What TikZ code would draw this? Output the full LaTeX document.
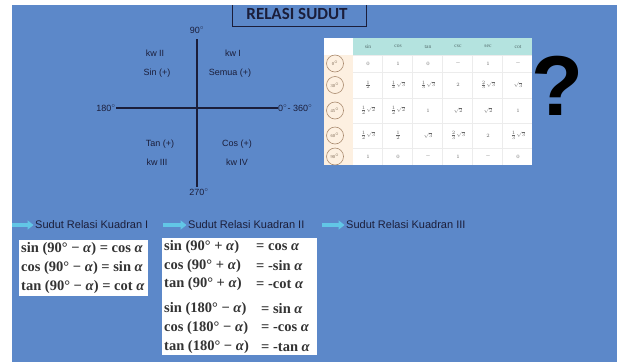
\documentclass[tikz,border=0pt]{standalone}
\usepackage{fontspec}
\setmainfont{Liberation Serif}
\setsansfont{Liberation Sans}
\newfontfamily\titlefont{Carlito}
\usetikzlibrary{arrows.meta}
\definecolor{bg}{HTML}{5C88C9}
\definecolor{ink}{HTML}{1B1E3A}
\definecolor{arr}{HTML}{62C6E6}
\definecolor{hdr}{HTML}{B4E3DF}
\definecolor{peach}{HTML}{FDF0E1}
\definecolor{cellink}{HTML}{666666}
\definecolor{ring}{HTML}{A98A6E}
\definecolor{eqink}{HTML}{333333}
\definecolor{grid}{HTML}{ECECEC}
\begin{document}
\begin{tikzpicture}[x=1pt,y=-1pt,
  lbl/.style={font=\sffamily\fontsize{9}{10}\selectfont, text=ink, inner sep=0},
  axis/.style={draw=ink, line width=1.6pt},
  cell/.style={font=\fontsize{5.5}{6}\selectfont, text=cellink, inner sep=0},
  hcell/.style={font=\fontsize{5.5}{6}\selectfont, text=cellink!80!teal, inner sep=0},
  ang/.style={circle, draw=ring, line width=0.6pt, minimum size=17, inner sep=0, font=\fontsize{4.5}{5}\selectfont, text=ring!70!black},
  head/.style={font=\sffamily\fontsize{11}{12}\selectfont, text=ink, inner sep=0, anchor=west},
  bigarrow/.style={draw=arr, line width=3.5pt, shorten >=1.5pt, -{Triangle[length=6pt,width=9pt]}},
  eq/.style={font=\bfseries\fontsize{14.5}{16}\selectfont, text=eqink, inner sep=0, anchor=west},
  ebox/.style={fill=white, inner sep=0, anchor=north west}]
\useasboundingbox (0,0) rectangle (617,362);
\fill[bg] (12,5) rectangle (617,362);

% title
\draw[ink, line width=1pt] (232,5) -- (232,26) -- (366,26) -- (366,5);
\node[font=\titlefont\bfseries\fontsize{17}{18}\selectfont, text=ink, inner sep=0] (title) at (297,14) {RELASI SUDUT};

% axes
\node[lbl] (n90) at (197,30) {90$^{\circ}$};
\node[lbl] (n270) at (199,192) {270$^{\circ}$};
\node[lbl, anchor=east] (n180) at (116,108) {180$^{\circ}$};
\node[lbl, anchor=west] (n0) at (278,108) {0$^{\circ}$- 360$^{\circ}$};
\coordinate (vtop) at (197,39);
\coordinate (vbot) at (197,187);
\draw[axis] (vtop) -- (vbot);
\draw[axis] (n180.east) -- (n0.west);

\node[lbl] (q2a) at (155,53) {kw II};
\node[lbl] (q2b) at (157,73) {Sin (+)};
\node[lbl] (q1a) at (233,53) {kw I};
\node[lbl] (q1b) at (230,73) {Semua (+)};
\node[lbl] (q3a) at (160,144) {Tan (+)};
\node[lbl] (q3b) at (157,162) {kw III};
\node[lbl] (q4a) at (237,144) {Cos (+)};
\node[lbl] (q4b) at (237,162) {kw IV};

% table
\fill[white] (324,38) rectangle (532,165);
\fill[hdr] (353,38) rectangle (532,55);
\fill[peach] (324,55) rectangle (353,165);
\foreach \yy in {55,72,98,123,148} \draw[grid, line width=0.5pt] (353,\yy) -- (532,\yy);
\foreach \xx in {382,412,442,472,502} \draw[grid, line width=0.5pt] (\xx,55) -- (\xx,165);
\foreach \t [count=\i] in {sin,cos,tan,csc,sec,cot}
  \node[hcell] (h\i) at (338+30*\i,46.5) {\t};
\foreach \a/\yy [count=\r] in {0/63.5,30/85,45/110.5,60/135.5,90/156.5}
  \node[ang] (a\r) at (335,\yy) {\a$^{\circ}$};
\foreach \v [count=\i] in {0,1,0,-,1,-}
  \node[cell] (c1\i) at (338+30*\i,63.5) {$\v$};
\foreach \v [count=\i] in {\frac12,\frac12\sqrt3,\frac13\sqrt3,2,\frac23\sqrt3,\sqrt3}
  \node[cell] (c2\i) at (338+30*\i,85) {$\v$};
\foreach \v [count=\i] in {\frac12\sqrt2,\frac12\sqrt2,1,\sqrt2,\sqrt2,1}
  \node[cell] (c3\i) at (338+30*\i,110.5) {$\v$};
\foreach \v [count=\i] in {\frac12\sqrt3,\frac12,\sqrt3,\frac23\sqrt3,2,\frac13\sqrt3}
  \node[cell] (c4\i) at (338+30*\i,135.5) {$\v$};
\foreach \v [count=\i] in {1,0,-,1,-,0}
  \node[cell] (c5\i) at (338+30*\i,156.5) {$\v$};

% question mark
\node[font=\sffamily\bfseries\fontsize{85}{85}\selectfont, text=black, inner sep=0] (qm) at (557,86) {?};

% headings with arrows
\coordinate (s1) at (12,225);
\coordinate (s2) at (163,225);
\coordinate (s3) at (322,225);
\node[head] (k1) at (35,225) {Sudut Relasi Kuadran I};
\node[head] (k2) at (188,225) {Sudut Relasi Kuadran II};
\node[head] (k3) at (346,225) {Sudut Relasi Kuadran III};
\draw[bigarrow] (s1) -- (k1.west);
\draw[bigarrow] (s2) -- (k2.west);
\draw[bigarrow] (s3) -- (k3.west);

% box 1
\node[ebox, minimum width=129, minimum height=56] (box1) at (19,240) {};
\node[eq] (e11) at (21,249) {sin (90° − \textit{α}) = cos \textit{α}};
\node[eq] (e12) at (21,268) {cos (90° − \textit{α}) = sin \textit{α}};
\node[eq] (e13) at (21,287) {tan (90° − \textit{α}) = cot \textit{α}};

% box 2
\node[ebox, minimum width=155, minimum height=117] (box2) at (162,238) {};
\node[eq] (l1) at (164,247) {sin (90° + \textit{α})};
\node[eq] (l2) at (164,266) {cos (90° + \textit{α})};
\node[eq] (l3) at (164,284) {tan (90° + \textit{α})};
\node[eq] (l4) at (164,309) {sin (180° − \textit{α})};
\node[eq] (l5) at (164,328) {cos (180° − \textit{α})};
\node[eq] (l6) at (164,347) {tan (180° − \textit{α})};
\node[eq] (r1) at (256,247) {= cos \textit{α}};
\node[eq] (r2) at (256,266) {= -sin \textit{α}};
\node[eq] (r3) at (256,284) {= -cot \textit{α}};
\node[eq] (r4) at (261,309) {= sin \textit{α}};
\node[eq] (r5) at (261,328) {= -cos \textit{α}};
\node[eq] (r6) at (261,347) {= -tan \textit{α}};
\end{tikzpicture}
\end{document}
